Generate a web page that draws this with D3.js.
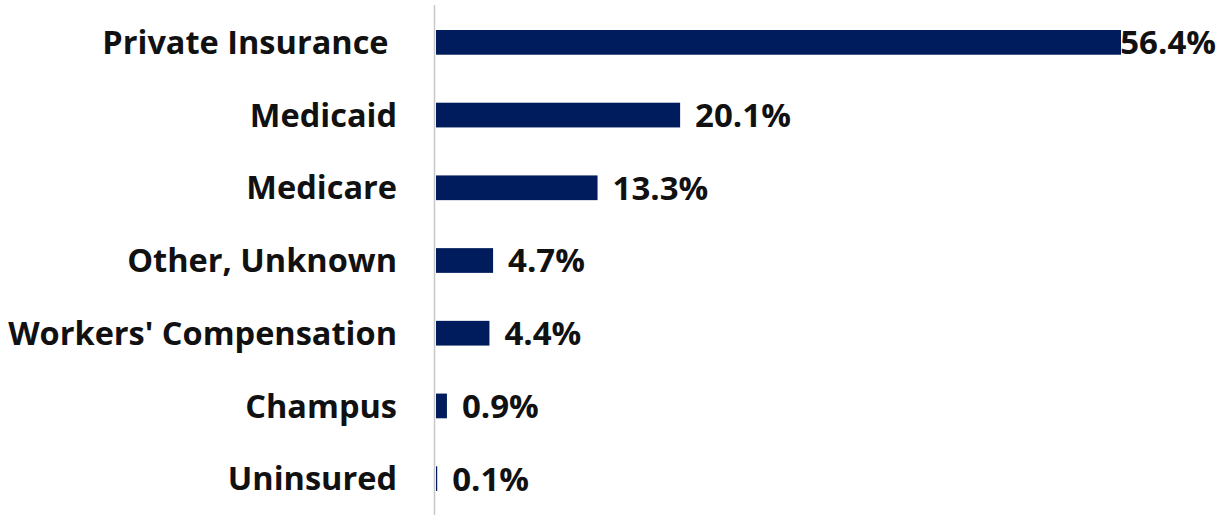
<!DOCTYPE html>
<html>
<head>
<meta charset="utf-8">
<script src="https://cdn.jsdelivr.net/npm/d3@7"></script>
<style>
  html, body { margin: 0; padding: 0; background: #fff; }
  svg text { font-family: "Open Sans", Lato, sans-serif; font-weight: 700; fill: #111; white-space: pre; }
</style>
</head>
<body>
<svg id="chart" width="1231" height="515"></svg>
<script>
// Payer mix, share of total (%)
const categories = ["Private Insurance ", "Medicaid", "Medicare", "Other, Unknown",
                    "Workers' Compensation", "Champus", "Uninsured"];
const shares = [56.4, 20.1, 13.3, 4.7, 4.4, 0.9, 0.1];
const valueLabels = ["56.4%", "20.1%", "13.3%", "4.7%", "4.4%", "0.9%", "0.1%"];

const svg = d3.select("#chart");
const W = 1231, H = 515;
const margin = { top: 6, right: 15, bottom: 0, left: 436 };

const x = d3.scaleLinear().domain([0, 56.4]).range([margin.left, 1121]);
const y = d3.scaleBand().domain(categories).range([margin.top, H]).paddingInner(0.66).paddingOuter(0.33);

// bars
svg.append("g").selectAll("rect")
  .data(categories)
  .join("rect")
  .attr("x", x(0))
  .attr("y", d => y(d))
  .attr("width", (d, i) => x(shares[i]) - x(0))
  .attr("height", y.bandwidth())
  .attr("fill", "#001c5c");

// category axis line
svg.append("line")
  .attr("x1", 434.5).attr("x2", 434.5)
  .attr("y1", 5).attr("y2", H)
  .attr("stroke", "#c8c8c8").attr("stroke-width", 1.5);

// category labels
svg.append("g").selectAll("text")
  .data(categories)
  .join("text")
  .attr("x", 397)
  .attr("y", d => y(d) + y.bandwidth() / 2)
  .attr("dy", "0.36em")
  .attr("text-anchor", "end")
  .style("font-size", "32.5px")
  .text(d => d);

// value labels, kept inside the right edge
const vl = svg.append("g").selectAll("text")
  .data(categories)
  .join("text")
  .attr("y", d => y(d) + y.bandwidth() / 2)
  .attr("dy", "0.36em")
  .style("font-size", "33px")
  .text((d, i) => valueLabels[i]);

vl.each(function(d, i) {
  const w = this.getComputedTextLength();
  const px = Math.min(x(shares[i]) + 15, W - margin.right - w);
  d3.select(this).attr("x", px);
});
</script>
</body>
</html>
